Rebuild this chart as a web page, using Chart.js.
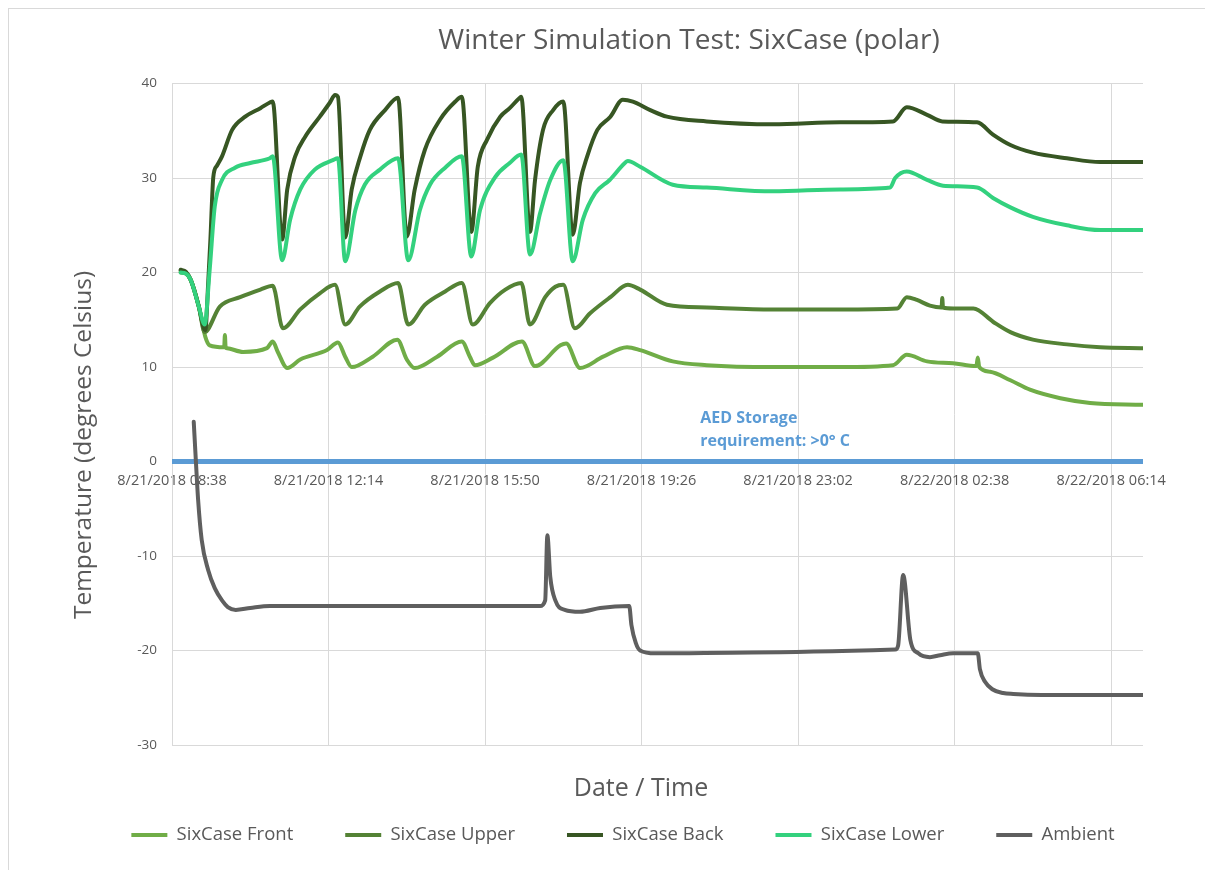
<!DOCTYPE html>
<html>
<head>
<meta charset="utf-8">
<title>Winter Simulation Test: SixCase (polar)</title>
<script src="https://cdn.jsdelivr.net/npm/chart.js@4.4.1/dist/chart.umd.min.js"></script>
<style>
  html, body { margin: 0; padding: 0; background: #fff; overflow: hidden; }
  #frame { position: absolute; left: 8px; top: 8px; width: 1400px; height: 900px;
           border-left: 1px solid #d9d9d9; border-top: 1px solid #d9d9d9; }
  #chart { position: absolute; left: 0; top: 0; }
</style>
</head>
<body>
<div id="frame"></div>
<canvas id="chart" width="1205" height="870"></canvas>
<script>
// Minutes after 8/21/2018 08:38, temperatures in degrees Celsius
const xTickMinutes = [0, 216, 432, 648, 864, 1080, 1296];
const xTickLabels = ['8/21/2018 08:38', '8/21/2018 12:14', '8/21/2018 15:50', '8/21/2018 19:26',
                     '8/21/2018 23:02', '8/22/2018 02:38', '8/22/2018 06:14'];

const seriesNames = ['SixCase Front', 'SixCase Upper', 'SixCase Back', 'SixCase Lower', 'Ambient'];

const frontMinutes = [12,19,26,37,46,52,72,73,74,76,98,131,139,146,159,177,214,229,239,248,277,311,324,335,366,400,411,418,443,483,501,536,544,563,595,628,646,691,738,829,922,995,1014,1042,1078,1110,1112,1114,1129,1157,1184,1226,1267,1340];
const frontTemps = [20,19.9,19.2,16.4,13.2,12.3,12.1,13.4,12.1,12,11.6,12,12.7,11.6,9.9,10.8,11.8,12.6,11.1,10,11.1,12.9,10.8,9.9,11.1,12.7,11.1,10.2,11,12.7,10.1,12.3,12.5,9.9,11.1,12.1,11.8,10.6,10.2,10,10,10.2,11.3,10.6,10.4,10.1,11,10,9.5,8.6,7.6,6.7,6.2,6];

const upperMinutes = [12,19,26,37,45,66,94,122,139,153,177,204,225,239,259,287,312,326,349,377,400,415,439,460,482,494,515,529,540,556,577,605,629,646,683,738,829,922,1001,1014,1028,1046,1062,1063,1064,1078,1106,1133,1157,1188,1235,1281,1340];
const upperTemps = [20.2,20,19.2,16.4,13.7,16.4,17.4,18.2,18.6,14.1,16.1,17.8,18.7,14.5,16.4,18,18.9,14.5,16.6,18,18.9,14.5,16.8,18.2,18.9,14.5,17.4,18.5,18.7,14.1,15.7,17.4,18.7,18.2,16.6,16.3,16.1,16.1,16.2,17.4,17.1,16.5,16.3,17.3,16.3,16.2,16.2,14.8,13.7,12.9,12.4,12.1,12];

const backMinutes = [12,19,26,37,44,46,50,53,57,62,69,83,101,122,135,139,152,159,170,184,204,218,225,229,239,248,260,273,294,312,324,335,349,370,391,400,413,422,435,453,466,480,482,494,501,512,526,540,553,563,573,587,605,622,636,660,683,738,829,922,995,1014,1042,1063,1111,1133,1157,1188,1235,1281,1340];
const backTemps = [20.3,20.1,19.2,16.4,14.1,13.9,19,23.5,30.1,31.3,32.3,35.1,36.5,37.4,38,38.1,23.5,28.8,32.3,34.4,36.5,38,38.8,38.6,23.7,28.8,32.3,35.1,37.2,38.5,23.8,28.8,33,36.2,38.1,38.6,24.3,31.2,34.1,36.5,37.4,38.5,38.6,24.3,29.8,35.1,37.2,38.1,24,29.5,32.3,35.1,36.5,38.3,38.1,37.2,36.5,36,35.7,35.9,36,37.5,36.7,36,35.9,34.6,33.5,32.7,32.1,31.7,31.7];

const lowerMinutes = [12,19,26,37,45,52,59,69,87,108,135,139,152,163,177,197,222,229,239,253,266,287,312,326,342,356,377,400,413,425,446,466,482,494,508,522,540,553,567,584,604,625,629,646,691,738,829,922,991,998,1014,1042,1064,1111,1133,1157,1188,1235,1281,1340];
const lowerTemps = [20,19.9,19.2,16.4,14.5,20.3,27,29.8,31.1,31.6,32.1,32.3,21.3,25.6,28.8,30.9,31.9,32.1,21.2,26.6,29.3,30.9,32.1,21.3,26.6,29.3,31.1,32.3,21.7,26.6,30.1,31.6,32.5,21.9,26.3,29.8,31.9,21.2,25.6,28.4,29.8,31.6,31.8,31.2,29.3,29,28.6,28.8,29,30,30.7,29.8,29.2,29,27.9,26.9,25.9,25,24.5,24.5];

const ambientMinutes = [30,33,36,41,50,59,69,77,88,108,135,508,515,518,522,529,542,563,591,631,634,640,646,667,800,998,1002,1009,1019,1030,1046,1060,1078,1112,1115,1122,1132,1147,1161,1200,1340];
const ambientTemps = [4.2,0,-4,-8.3,-11.5,-13.4,-14.7,-15.4,-15.7,-15.5,-15.3,-15.3,-14.7,-7.8,-12.2,-14.7,-15.7,-15.9,-15.5,-15.3,-17.3,-19.2,-20,-20.3,-20.2,-19.9,-19.5,-12,-18.9,-20.3,-20.7,-20.5,-20.3,-20.3,-22,-23.3,-24.1,-24.5,-24.6,-24.7,-24.7];

// storage requirement line at 0 degrees
const reqMinutes = [0, 1340];
const reqTemps = [0, 0];
const reqLabel = ['AED Storage', 'requirement: >0\u00B0 C'];

const chartTitle = 'Winter Simulation Test: SixCase (polar)';
const xTitle = 'Date / Time';
const yTitle = 'Temperature (degrees Celsius)';

const textGrey = '#595959';
const gridGrey = '#d9d9d9';

function points(minutes, temps) {
    return minutes.map((m, i) => ({ x: m, y: temps[i] }));
}

function lineSet(label, minutes, temps, color, order) {
    return {
        label: label,
        data: points(minutes, temps),
        borderColor: color,
        backgroundColor: color,
        borderWidth: 4,
        pointRadius: 0,
        cubicInterpolationMode: 'monotone',
        borderCapStyle: 'round',
        borderJoinStyle: 'round',
        order: order
    };
}

// legend settings, reused by the placement plugin
const legendPad = 52;
const legendFont = 18.5;

// centres of title, x-axis title, legend and y-axis title in the reference
const boxCentres = {
    title: [689, 41],
    subtitle: [641, 789],
    legend: [623, 835],
    yTitle: [84, 445]
};

const placeBoxes = {
    id: 'placeBoxes',
    afterLayout(chart) {
        chart.boxes.forEach(box => {
            let target = null;
            let cy = (box.top + box.bottom) / 2;
            if (box === chart.legend) {
                target = boxCentres.legend;
                cy = box.top + legendPad + legendFont / 2;
                box.bottom = box.top + 2 * legendPad + legendFont;
            } else if (box.options && box.options.text === chartTitle) {
                target = boxCentres.title;
            } else if (box.options && box.options.text === xTitle) {
                target = boxCentres.subtitle;
            }
            if (!target) return;
            const dx = target[0] - (box.left + box.right) / 2;
            const dy = target[1] - cy;
            box.left += dx; box.right += dx;
            box.top += dy; box.bottom += dy;
        });
    }
};

// y-axis title and the blue text next to the requirement line
const extraText = {
    id: 'extraText',
    afterDraw(chart) {
        const { ctx, scales } = chart;
        ctx.save();
        ctx.translate(boxCentres.yTitle[0], boxCentres.yTitle[1]);
        ctx.rotate(-Math.PI / 2);
        ctx.fillStyle = textGrey;
        ctx.font = '24.5px "Open Sans"';
        ctx.textAlign = 'center';
        ctx.textBaseline = 'middle';
        ctx.fillText(yTitle, 0, 0);
        ctx.restore();

        ctx.save();
        ctx.fillStyle = '#5B9BD5';
        ctx.font = 'bold 16px "Open Sans"';
        ctx.textAlign = 'left';
        ctx.textBaseline = 'middle';
        ctx.fillText(reqLabel[0], scales.x.getPixelForValue(729), scales.y.getPixelForValue(4.6));
        ctx.fillText(reqLabel[1], scales.x.getPixelForValue(729), scales.y.getPixelForValue(2.1));
        ctx.restore();
    }
};

const reqSet = lineSet('requirement', reqMinutes, reqTemps, '#5B9BD5', 6);
reqSet.borderWidth = 5;
reqSet.borderCapStyle = 'butt';

const chart = new Chart(document.getElementById('chart'), {
    type: 'line',
    data: {
        datasets: [
            lineSet(seriesNames[0], frontMinutes, frontTemps, '#70AD47', 5),
            lineSet(seriesNames[1], upperMinutes, upperTemps, '#548235', 4),
            lineSet(seriesNames[2], backMinutes, backTemps, '#375623', 3),
            lineSet(seriesNames[3], lowerMinutes, lowerTemps, '#33D17E', 2),
            lineSet(seriesNames[4], ambientMinutes, ambientTemps, '#5F5F5F', 1),
            reqSet
        ]
    },
    options: {
        responsive: false,
        devicePixelRatio: 1,
        animation: false,
        layout: { padding: { left: 0, right: 62, top: 50, bottom: 58 } },
        plugins: {
            title: {
                display: true,
                text: chartTitle,
                color: textGrey,
                font: { family: 'Open Sans', size: 28, weight: 'normal' },
                padding: 0
            },
            subtitle: {
                display: true,
                text: xTitle,
                position: 'bottom',
                color: textGrey,
                font: { family: 'Open Sans', size: 25, weight: 'normal' },
                padding: 0
            },
            legend: {
                position: 'bottom',
                weight: 2000,
                maxHeight: 37,
                labels: {
                    color: textGrey,
                    font: { family: 'Open Sans', size: legendFont },
                    boxWidth: 36,
                    boxHeight: 4,
                    padding: legendPad,
                    generateLabels(chart) {
                        return chart.data.datasets.slice(0, seriesNames.length).map((ds, i) => ({
                            text: ds.label,
                            fillStyle: ds.borderColor,
                            strokeStyle: ds.borderColor,
                            lineWidth: 0,
                            fontColor: textGrey,
                            hidden: false,
                            datasetIndex: i
                        }));
                    }
                }
            },
            tooltip: { enabled: false }
        },
        scales: {
            x: {
                type: 'linear',
                position: { y: 0 },
                min: 0,
                max: 1340,
                afterBuildTicks(scale) {
                    scale.ticks = xTickMinutes.map(v => ({ value: v }));
                },
                ticks: {
                    color: textGrey,
                    font: { family: 'Open Sans', size: 14.5 },
                    padding: 11,
                    maxRotation: 0,
                    autoSkip: false,
                    callback(value) {
                        const i = xTickMinutes.indexOf(value);
                        return i >= 0 ? xTickLabels[i] : '';
                    }
                },
                grid: { color: gridGrey, drawTicks: false },
                border: { display: false }
            },
            y: {
                min: -30,
                max: 40,
                afterFit(scale) {
                    scale.width = 172;
                },
                ticks: {
                    stepSize: 10,
                    color: textGrey,
                    font: { family: 'Open Sans', size: 13.5 },
                    padding: 15
                },
                grid: { color: gridGrey, drawTicks: false },
                border: { color: gridGrey }
            }
        }
    },
    plugins: [placeBoxes, extraText]
});
</script>
</body>
</html>
